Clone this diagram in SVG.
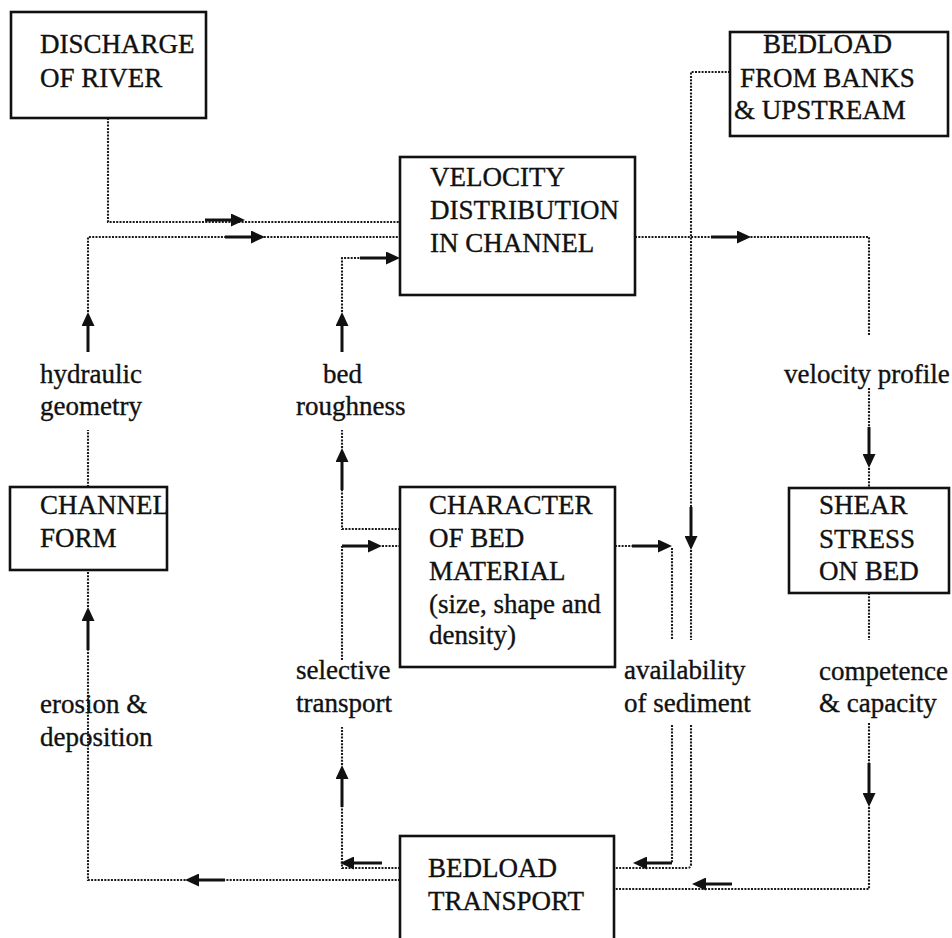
<svg xmlns="http://www.w3.org/2000/svg" width="952" height="938" viewBox="0 0 952 938">
<defs>
<style>
.box{fill:#fff;stroke:#111;stroke-width:2.6}
.t{font-family:"Liberation Serif","Times New Roman",serif;font-size:27px;fill:#111;stroke:#111;stroke-width:0.35}
.dot{fill:none;stroke:#1a1a1a;stroke-width:2.1;stroke-dasharray:2 1.3}
.arr{fill:none;stroke:#111;stroke-width:3;marker-end:url(#ah)}
</style>
<marker id="ah" markerUnits="userSpaceOnUse" markerWidth="14" markerHeight="13" refX="8" refY="6.5" orient="auto">
<path d="M0,0 L14,6.5 L0,13 z" fill="#111"/>
</marker>
</defs>
<rect width="952" height="938" fill="#fff"/>

<g id="connectors">
<!-- discharge -> velocity -->
<path class="dot" d="M108,118 V222 H400"/>
<line class="arr" x1="205" y1="220" x2="239" y2="220"/>
<!-- channel form -> velocity (hydraulic geometry) -->
<path class="dot" d="M88,487 V430"/>
<line class="arr" x1="88" y1="352" x2="88" y2="318"/>
<path class="dot" d="M88,312 V237 H400"/>
<line class="arr" x1="225" y1="237" x2="259" y2="237"/>
<!-- character -> velocity (bed roughness) -->
<path class="dot" d="M400,529 H342 V490"/>
<line class="arr" x1="342" y1="490" x2="342" y2="454"/>
<path class="dot" d="M342,448 V430"/>
<line class="arr" x1="342" y1="352" x2="342" y2="318"/>
<path class="dot" d="M342,312 V258 H360"/>
<line class="arr" x1="360" y1="258" x2="394" y2="258"/>
<!-- velocity -> shear (velocity profile) -->
<path class="dot" d="M635,237 H869 V335"/>
<line class="arr" x1="711" y1="237" x2="745" y2="237"/>
<path class="dot" d="M869,388 V427"/>
<line class="arr" x1="869" y1="427" x2="869" y2="462"/>
<path class="dot" d="M869,468 V488"/>
<!-- bedload banks -> transport (availability) -->
<path class="dot" d="M730,72 H691 V507"/>
<line class="arr" x1="691" y1="507" x2="691" y2="544"/>
<path class="dot" d="M691,550 V640"/>
<path class="dot" d="M691,725 V864 Q691,868 687,868 H614"/>
<!-- character -> transport (availability) -->
<path class="dot" d="M615,546 H632"/>
<line class="arr" x1="632" y1="546" x2="666" y2="546"/>
<path class="dot" d="M672,548 V640"/>
<path class="dot" d="M672,725 V863"/>
<line class="arr" x1="672" y1="863" x2="639" y2="863"/>
<!-- shear -> transport (competence & capacity) -->
<path class="dot" d="M869,593 V640"/>
<path class="dot" d="M869,723 V763"/>
<line class="arr" x1="869" y1="763" x2="869" y2="801"/>
<path class="dot" d="M869,807 V889 H614"/>
<line class="arr" x1="732" y1="884" x2="698" y2="884"/>
<!-- transport -> channel form (erosion & deposition) -->
<path class="dot" d="M400,880 H88 V650"/>
<line class="arr" x1="225" y1="880" x2="191" y2="880"/>
<line class="arr" x1="88" y1="650" x2="88" y2="613"/>
<path class="dot" d="M88,607 V570"/>
<!-- transport -> character (selective transport) -->
<path class="dot" d="M400,868 H342 V807"/>
<line class="arr" x1="382" y1="863" x2="346" y2="863"/>
<line class="arr" x1="342" y1="807" x2="342" y2="771"/>
<path class="dot" d="M342,765 V727"/>
<path class="dot" d="M342,660 V546"/>
<line class="arr" x1="342" y1="546" x2="376" y2="546"/>
<path class="dot" d="M382,546 H400"/>
</g>

<g id="discharge">
<rect class="box" x="11" y="12" width="195" height="106"/>
<text class="t" x="40" y="53">DISCHARGE</text>
<text class="t" x="40" y="87">OF RIVER</text>
</g>
<g id="velocity">
<rect class="box" x="400" y="157" width="235" height="138"/>
<text class="t" x="430" y="186">VELOCITY</text>
<text class="t" x="430" y="219">DISTRIBUTION</text>
<text class="t" x="430" y="252">IN CHANNEL</text>
</g>
<g id="bedload-banks">
<rect class="box" x="730" y="32" width="218" height="104"/>
<text class="t" x="763" y="53">BEDLOAD</text>
<text class="t" x="740" y="87">FROM BANKS</text>
<text class="t" x="734" y="119">&amp; UPSTREAM</text>
</g>
<g id="channel-form">
<rect class="box" x="10" y="487" width="157" height="83"/>
<text class="t" x="40" y="514">CHANNEL</text>
<text class="t" x="40" y="547">FORM</text>
</g>
<g id="character">
<rect class="box" x="400" y="487" width="215" height="180"/>
<text class="t" x="429" y="514">CHARACTER</text>
<text class="t" x="429" y="547">OF BED</text>
<text class="t" x="429" y="580">MATERIAL</text>
<text class="t" x="429" y="613">(size, shape and</text>
<text class="t" x="429" y="644">density)</text>
</g>
<g id="shear">
<rect class="box" x="789" y="488" width="160" height="105"/>
<text class="t" x="819" y="514">SHEAR</text>
<text class="t" x="819" y="548">STRESS</text>
<text class="t" x="819" y="580">ON BED</text>
</g>
<g id="bedload-transport">
<rect class="box" x="400" y="836" width="214" height="112"/>
<text class="t" x="428" y="877">BEDLOAD</text>
<text class="t" x="428" y="910">TRANSPORT</text>
</g>

<g id="labels">
<text class="t" x="40" y="383">hydraulic</text>
<text class="t" x="40" y="415">geometry</text>
<text class="t" x="323" y="383">bed</text>
<text class="t" x="296" y="415">roughness</text>
<text class="t" x="784" y="383">velocity profile</text>
<text class="t" x="40" y="713">erosion &amp;</text>
<text class="t" x="40" y="746">deposition</text>
<text class="t" x="296" y="679">selective</text>
<text class="t" x="296" y="712">transport</text>
<text class="t" x="624" y="679">availability</text>
<text class="t" x="624" y="712">of sediment</text>
<text class="t" x="819" y="680">competence</text>
<text class="t" x="819" y="712">&amp; capacity</text>
</g>
</svg>
